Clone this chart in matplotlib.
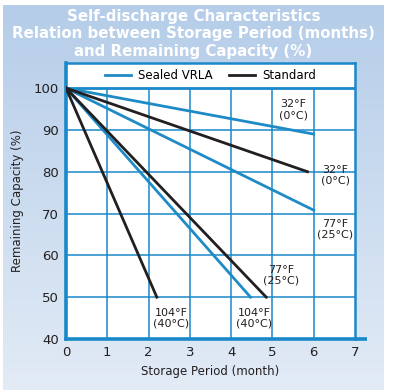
import numpy as np
import matplotlib.pyplot as plt
from matplotlib.colors import LinearSegmentedColormap

# (start, end) of each line: storage months, remaining capacity %
vrla_x = [[0, 6.0], [0, 6.0], [0, 4.47]]
vrla_y = [[100, 89], [100, 70.8], [100, 50]]
std_x = [[0, 5.85], [0, 4.85], [0, 2.2]]
std_y = [[100, 80], [100, 50], [100, 50]]

temp_labels = ['32°F\n(0°C)', '32°F\n(0°C)', '77°F\n(25°C)',
               '77°F\n(25°C)', '104°F\n(40°C)', '104°F\n(40°C)']
label_x = [5.5, 6.52, 6.52, 5.2, 4.55, 2.55]
label_y = [94.8, 79.2, 66.3, 55.2, 44.9, 44.9]

blue = '#1f8bc6'
black = '#231f20'
frame = '#1a88c9'

fig = plt.figure(figsize=(3.93, 3.90), dpi=100)

# gradient panel behind everything
bg = fig.add_axes([3/393, 0, 381/393, 385/390], zorder=-1)
cmap = LinearSegmentedColormap.from_list('bg', ['#b5cde9', '#e2ebf6'])
bg.imshow(np.linspace(0, 1, 256).reshape(-1, 1), aspect='auto', cmap=cmap)
bg.axis('off')

title_lines = ['Self-discharge Characteristics',
               'Relation between Storage Period (months)',
               'and Remaining Capacity (%)']
for txt, yy in zip(title_lines, [0.957, 0.913, 0.869]):
    fig.text(0.492, yy, txt, ha='center', va='center',
             color='white', fontsize=10.8, fontweight='heavy')

ax = fig.add_axes([66/393, 1 - 339/390, 289/393, 276/390])
ax.set_facecolor('white')
ax.set_xlim(0, 7)
ax.set_ylim(40, 106)

for y in [50, 60, 70, 80, 90]:
    ax.plot([0, 7], [y, y], color=frame, lw=1.1, zorder=1)
for x in [1, 2, 3, 4, 5, 6]:
    ax.plot([x, x], [40, 100], color=frame, lw=1.1, zorder=1)
ax.plot([0, 7], [100, 100], color=frame, lw=2, zorder=1)
# bottom axis line runs a little past the frame
ax.plot([7, 7.3], [40, 40], color=frame, lw=2.6, clip_on=False, solid_capstyle='butt')

for i in range(3):
    ax.plot(vrla_x[i], vrla_y[i], color=blue, lw=2, zorder=3,
            label='Sealed VRLA' if i == 0 else None)
for i in range(3):
    ax.plot(std_x[i], std_y[i], color=black, lw=2, zorder=3,
            label='Standard' if i == 0 else None)

for t, x, y in zip(temp_labels, label_x, label_y):
    ax.text(x, y, t, ha='center', va='center', fontsize=8,
            color=black, linespacing=1.1, zorder=4)

leg = ax.legend(loc='center', bbox_to_anchor=(0, 60/66, 1, 6/66), ncol=2,
                frameon=False, fontsize=8.5, handlelength=2.2, columnspacing=1.4,
                handletextpad=0.6)

for side in ['left', 'bottom']:
    ax.spines[side].set_linewidth(2.6)
for side in ['right', 'top']:
    ax.spines[side].set_linewidth(1.8)
for s in ax.spines.values():
    s.set_color(frame)

ax.set_xticks(range(0, 8))
ax.set_yticks(range(40, 101, 10))
ax.tick_params(length=0, pad=5, labelsize=9.5, labelcolor=black)

ax.set_xlabel('Storage Period (month)', fontsize=8.5, color=black, labelpad=4)
ax.set_ylabel('Remaining Capacity (%)', fontsize=8.5, color=black, labelpad=7)

fig.savefig('out.png', dpi=100)
